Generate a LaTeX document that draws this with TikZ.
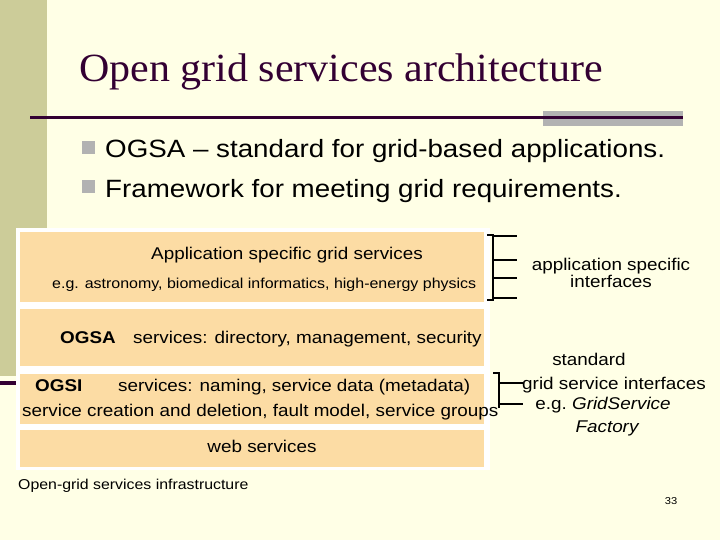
\documentclass[tikz,border=0pt]{standalone}
\usepackage{fontspec}
\setmainfont{Liberation Sans}[FakeStretch=1.11]
\newfontfamily\titlefont{Liberation Serif}[FakeStretch=1.05]
\definecolor{bg}{HTML}{FFFFE6}
\definecolor{band}{HTML}{CCCC99}
\definecolor{dk}{HTML}{330033}
\definecolor{gr}{HTML}{B2B2B2}
\definecolor{org}{HTML}{FCDCA4}
\begin{document}
\begin{tikzpicture}[x=1pt,y=-1pt,
  layer/.style={fill=org,draw=none},
  txt/.style={inner sep=0pt,anchor=base},
  brk/.style={line width=2pt,black}]
\useasboundingbox (0,0) rectangle (720,540);
\fill[bg] (0,0) rectangle (720,540);
\fill[band] (0,0) rectangle (47,376);
\fill[dk] (0,381) rectangle (47,385);
\node[txt,anchor=base west,text=dk,font=\titlefont\fontsize{40}{40}\selectfont] (title) at (79,82) {Open grid services architecture};
\fill[gr] (543,111) rectangle (683,126);
\fill[dk] (30,116) rectangle (683,119);
\fill[gr] (82,141) rectangle (95,154);
\fill[gr] (82,180) rectangle (95,193);
\node[txt,anchor=base west,font=\fontsize{25}{25}\selectfont] (b1) at (105,158) {OGSA -- standard for grid-based applications.};
\node[txt,anchor=base west,font=\fontsize{25}{25}\selectfont] (b2) at (105,197) {Framework for meeting grid requirements.};
\fill[white] (16,228) rectangle (490,470);
\fill[layer] (20,232) rectangle (484,302);
\fill[layer] (20,309) rectangle (484,366);
\fill[layer] (20,374) rectangle (484,424);
\fill[layer] (20,430) rectangle (484,467);
\node[txt,font=\fontsize{17}{17}\selectfont] (app) at (287,259) {Application specific grid services};
\node[txt,anchor=base west,font=\fontsize{14.4}{14}\selectfont] (eg) at (52,288) {e.g. astronomy, biomedical informatics, high-energy physics};
\node[txt,anchor=base west,font=\bfseries\fontsize{17}{17}\selectfont] (ogsa) at (60,343) {OGSA};
\node[txt,anchor=base west,font=\fontsize{17}{17}\selectfont] (ogsas) at (133,343) {services: directory, management, security};
\node[txt,anchor=base west,font=\bfseries\fontsize{17}{17}\selectfont] (ogsi) at (35,391) {OGSI};
\node[txt,anchor=base west,font=\fontsize{17}{17}\selectfont] (ogsis) at (118,391) {services: naming, service data (metadata)};
\node[txt,anchor=base west,font=\fontsize{17}{17}\selectfont] (ogsi2) at (22,416) {service creation and deletion, fault model, service groups};
\node[txt,font=\fontsize{17}{17}\selectfont] (web) at (262,452) {web services};
\node[txt,anchor=base west,font=\fontsize{14.3}{14}\selectfont] (inf) at (18,489) {Open-grid services infrastructure};
% bracket 1
\draw[brk] (487,235) -- (493,235) -- (493,300) -- (487,300);
\foreach \yy in {236,260,278,298} \draw[brk] (493,\yy) -- (517,\yy);
\node[txt,font=\fontsize{17}{17}\selectfont] (asi1) at (611,270) {application specific};
\node[txt,font=\fontsize{17}{17}\selectfont] (asi2) at (611,287) {interfaces};
% bracket 2
\draw[brk] (493,373) -- (499,373) -- (499,408);
\foreach \yy in {383,404} \draw[brk] (499,\yy) -- (523,\yy);
\node[txt,font=\fontsize{17}{17}\selectfont] (st) at (589,365) {standard};
\node[txt,font=\fontsize{17}{17}\selectfont] (gsi) at (614,389) {grid service interfaces};
\node[txt,font=\fontsize{17}{17}\selectfont] (gs) at (603,409) {e.g.\ \itshape GridService};
\node[txt,font=\itshape\fontsize{17}{17}\selectfont] (fac) at (607,432) {Factory};
\node[txt,font=\fontsize{10}{10}\selectfont] (pg) at (671,504) {33};
\end{tikzpicture}
\end{document}
